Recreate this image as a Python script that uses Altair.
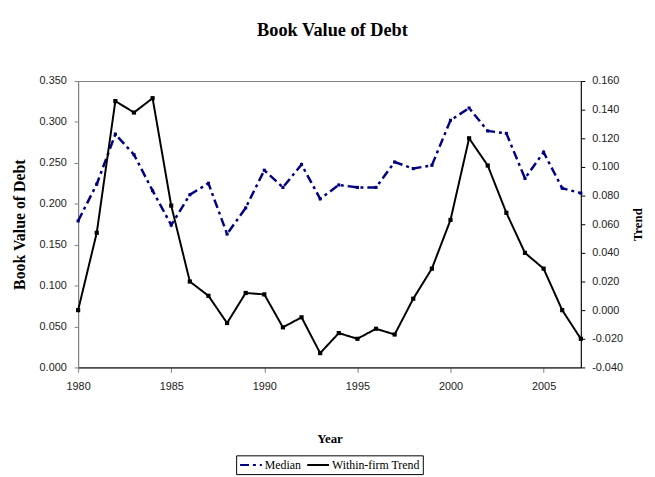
import altair as alt
import pandas as pd

years = list(range(1980, 2008))
median = [0.179, 0.224, 0.285, 0.260, 0.216, 0.174, 0.211, 0.225, 0.163, 0.195,
          0.241, 0.220, 0.248, 0.206, 0.223, 0.220, 0.220, 0.251, 0.243, 0.247,
          0.302, 0.317, 0.289, 0.286, 0.231, 0.263, 0.219, 0.213]
trend = [0.000, 0.054, 0.146, 0.138, 0.148, 0.073, 0.020, 0.010, -0.009, 0.012,
         0.011, -0.012, -0.005, -0.030, -0.016, -0.020, -0.013, -0.017, 0.008, 0.029,
         0.063, 0.120, 0.101, 0.068, 0.040, 0.029, 0.000, -0.020]
series_names = ["Median", "Within-firm Trend"]
x_ticks = [1980, 1985, 1990, 1995, 2000, 2005]
left_ticks = [0.0, 0.05, 0.10, 0.15, 0.20, 0.25, 0.30, 0.35]
right_ticks = [-0.04, -0.02, 0.0, 0.02, 0.04, 0.06, 0.08, 0.10, 0.12, 0.14, 0.16]

df_m = pd.DataFrame({"Year": years, "Value": median, "Series": series_names[0]})
df_t = pd.DataFrame({"Year": years, "Value": trend, "Series": series_names[1]})

NAVY = "#000080"
W, H = 509, 290
label_expr = "replace(format(datum.value, '.3f'), '\u2212', '-')"

color_scale = alt.Scale(domain=series_names, range=[NAVY, "#000000"])
dash_scale = alt.Scale(domain=series_names, range=[[9, 4, 3, 4], [1, 0]])

legend = alt.Legend(
    title=None, orient="none", legendX=160, legendY=379, direction="horizontal",
    strokeColor="#000000", fillColor="white", padding=3,
    symbolType="M-1,0H3", symbolStrokeWidth=2, symbolSize=121,
    labelFont="Liberation Serif", labelFontSize=12, labelColor="#000000",
    columnPadding=2, labelOffset=13,
)

x_enc = alt.X(
    "Year:Q",
    scale=alt.Scale(domain=[1980, 2007], nice=False, zero=False),
    axis=alt.Axis(
        values=x_ticks, format="d", title="Year", grid=False, labelFlush=False,
        domainColor="#000000", tickColor="#808080", tickSize=5,
        labelFont="Liberation Sans", labelFontSize=11, labelColor="#222222", labelPadding=8,
        titleFont="Liberation Serif", titleFontSize=13, titleFontWeight="bold",
        titleX=W / 2, titleY=72, titleBaseline="middle", titleAlign="center",
    ),
)

y_left = alt.Y(
    "Value:Q",
    scale=alt.Scale(domain=[0, 0.35], nice=False, zero=False),
    axis=alt.Axis(
        values=left_ticks, labelExpr=label_expr, title="Book Value of Debt", orient="left",
        grid=False, labelFlush=False, domainColor="#808080", tickColor="#808080", tickSize=4,
        labelFont="Liberation Sans", labelFontSize=11, labelColor="#222222", labelPadding=8,
        titleFont="Liberation Serif", titleFontSize=16, titleFontWeight="bold",
        titleX=-59, titleY=H / 2, titleAngle=270, titleAlign="center", titleBaseline="middle",
    ),
)

y_right = alt.Y(
    "Value:Q",
    scale=alt.Scale(domain=[-0.04, 0.16], nice=False, zero=False),
    axis=alt.Axis(
        values=right_ticks, labelExpr=label_expr, title="Trend", orient="right",
        grid=False, labelFlush=False, domainColor="#000000", tickColor="#000000", tickSize=4,
        labelFont="Liberation Sans", labelFontSize=11, labelColor="#222222", labelPadding=7,
        titleFont="Liberation Serif", titleFontSize=13, titleFontWeight="bold",
        titleX=57, titleY=H / 2, titleAngle=270, titleAlign="center", titleBaseline="middle",
    ),
)

line_m = alt.Chart(df_m).mark_line(strokeWidth=2.5).encode(
    x=x_enc, y=y_left,
    color=alt.Color("Series:N", scale=color_scale, legend=legend),
    strokeDash=alt.StrokeDash("Series:N", scale=dash_scale, legend=legend),
)
pts_m = alt.Chart(df_m).mark_point(shape="square", filled=True, size=10, opacity=1).encode(
    x=x_enc, y=y_left, color=alt.value(NAVY)
)
line_t = alt.Chart(df_t).mark_line(strokeWidth=2).encode(
    x=x_enc, y=y_right,
    color=alt.Color("Series:N", scale=color_scale, legend=legend),
    strokeDash=alt.StrokeDash("Series:N", scale=dash_scale, legend=legend),
)
pts_t = alt.Chart(df_t).mark_point(shape="square", filled=True, size=18, opacity=1).encode(
    x=x_enc, y=y_right, color=alt.value("#000000")
)

left_layer = alt.layer(line_m, pts_m)
right_layer = alt.layer(line_t, pts_t)

chart = alt.layer(left_layer, right_layer).resolve_scale(
    y="independent"
).properties(
    width=W, height=H,
    title=alt.Title("Book Value of Debt", font="Liberation Serif", fontSize=18.5,
                    fontWeight="bold", anchor="middle", offset=36, dx=3, color="#000000"),
    autosize=alt.AutoSizeParams(type="none"),
    padding={"left": 71, "top": 71, "right": 67, "bottom": 108},
    background="white",
).configure_view(stroke="#808080", strokeWidth=1)

chart.save("out.html", embed_options={"renderer": "svg", "actions": False})
